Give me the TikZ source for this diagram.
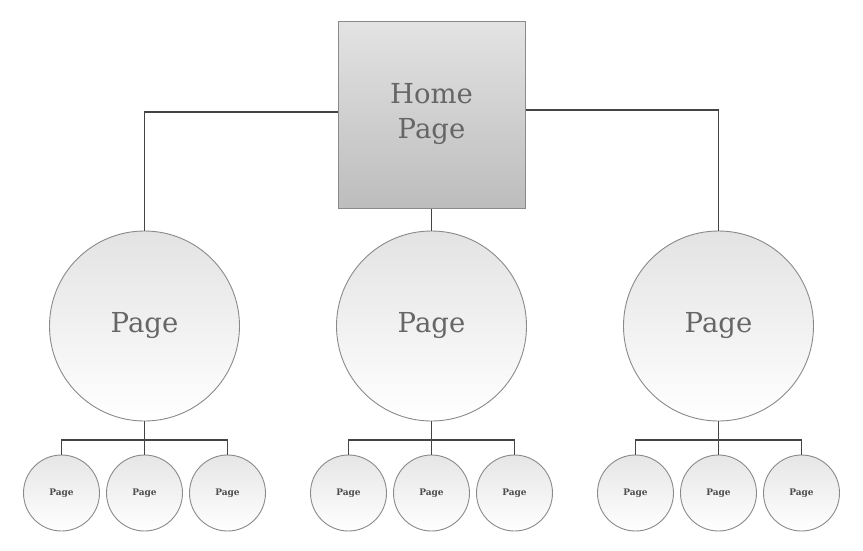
\documentclass[tikz,border=0pt]{standalone}
\usepackage{fontspec}
\setmainfont{DejaVu Serif}
\definecolor{linec}{HTML}{444444}
\definecolor{bordc}{HTML}{8A8A8A}
\definecolor{txtc}{HTML}{666666}
\begin{document}
\begin{tikzpicture}[x=1pt,y=-1pt,
  homebox/.style={draw=bordc,line width=1pt,minimum width=187pt,minimum height=187pt,inner sep=0pt,
    top color=black!11,bottom color=black!26,text=txtc,align=center,font=\fontsize{27.5}{35}\selectfont},
  bigpage/.style={circle,draw=bordc,line width=0.9pt,minimum size=190pt,inner sep=0pt,
    top color=black!11,bottom color=white,text=txtc,font=\fontsize{27.5}{30}\selectfont},
  smallpage/.style={circle,draw=bordc,line width=0.9pt,minimum size=76pt,inner sep=0pt,
    top color=black!10,bottom color=white,text=black!70,font=\fontsize{9}{11}\selectfont\bfseries},
  conn/.style={draw=linec,line width=1.7pt}]
\useasboundingbox (0,0) rectangle (863,550);
\node[homebox] (home) at (431.5,114.5) {Home\\Page};
\foreach \g/\c in {1/144.5,2/431.5,3/718.5}{
  \node[bigpage] (p\g) at (\c,326) {Page};
  \node[smallpage] (s\g a) at (\c-83,493) {Page};
  \node[smallpage] (s\g b) at (\c,493) {Page};
  \node[smallpage] (s\g c) at (\c+83,493) {Page};
  \coordinate (b\g) at (\c,440);
  \draw[conn] (p\g.south) -- (b\g);
  \draw[conn] (s\g a.north) |- (b\g) -| (s\g c.north);
  \draw[conn] (b\g) -- (s\g b.north);
}
\draw[conn] (home.west |- 0,112) -| (p1.north);
\draw[conn] (home.east |- 0,110) -| (p3.north);
\draw[conn] (home.south) -- (p2.north);
\end{tikzpicture}
\end{document}
